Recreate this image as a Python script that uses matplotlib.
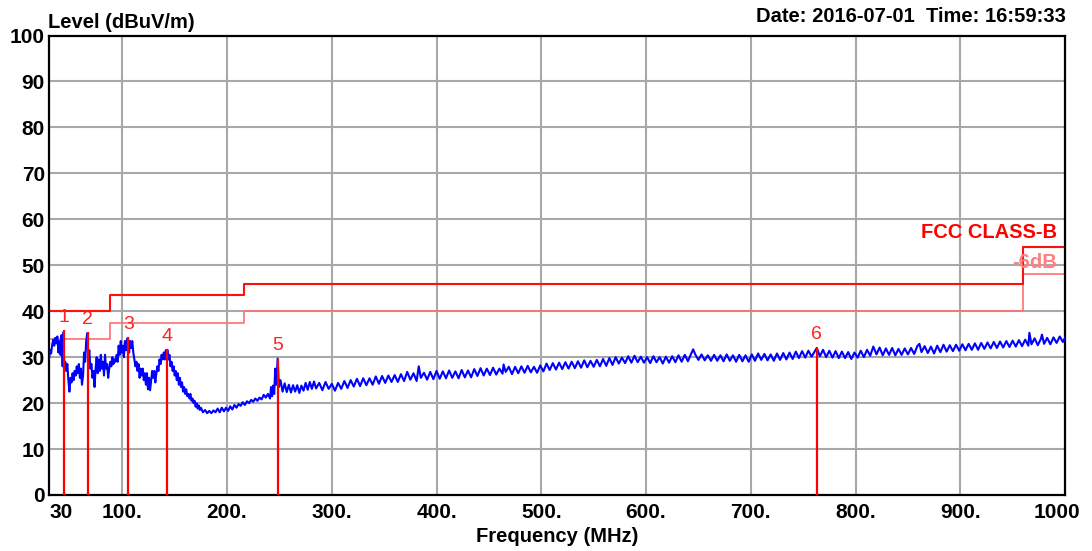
import matplotlib
matplotlib.use("Agg")
import matplotlib.pyplot as plt
from matplotlib.transforms import ScaledTranslation

plt.rcParams['font.family'] = ['Liberation Sans', 'DejaVu Sans']

# measured trace (MHz, dBuV/m)
trace_freq = [
    30, 31, 32, 33, 34, 35, 36, 37, 38, 39, 40, 41, 42, 43, 44, 44.5, 45.5, 46.5, 47.5, 48.5,
    49.5, 50.5, 51.5, 52.5, 53.5, 54.5, 55.5, 56.5, 57.5, 58.5, 59.5, 60.5, 61.5, 62.5, 63.5,
    64.5, 65.5, 66.5, 67.5, 68.5, 69.5, 70.5, 71.5, 72.5, 73.5, 74.5, 75.5, 76.5, 77.5, 78.5,
    79.5, 80.5, 81.5, 82.5, 83.5, 84.5, 85.5, 86.5, 87.5, 88.5, 89.5, 90.5, 91.5, 92.5, 93.5,
    94.5, 95.5, 96.5, 97.5, 98.5, 99.5, 100.5, 101.5, 102.5, 103.5, 104.5, 105.5, 106.5, 107.5,
    108.5, 109.5, 110.5, 111.5, 112.5, 113.5, 114.5, 115.5, 116.5, 117.5, 118.5, 119.5, 120.5,
    121.5, 122.5, 123.5, 124.5, 125.5, 126.5, 127.5, 128.5, 129.5, 130.5, 131.5, 132.5, 133.5,
    134.5, 135.5, 136.5, 137.5, 138.5, 139.5, 140.5, 141.5, 142.5, 143, 144, 145, 146, 147, 148,
    149, 150, 151, 152, 153, 154, 155, 156, 157, 158, 159, 160, 161, 162, 163, 164, 165, 166,
    167, 168, 169, 170, 171, 172, 173, 174, 175, 177, 179, 181, 183, 185, 187, 189, 191, 193,
    195, 197, 199, 201, 203, 205, 207, 209, 211, 213, 215, 217, 219, 221, 223, 225, 227, 229,
    231, 233, 235, 237, 239, 241, 242, 243, 244, 245, 246, 247, 248.3, 249.5, 251, 253, 255,
    257, 259, 261, 263, 265, 267, 269, 271, 273, 275, 277, 279, 281, 283, 285, 288, 291, 294,
    297, 300, 303, 306, 309, 312, 315, 318, 321, 324, 327, 330, 333, 336, 339, 342, 345, 348,
    351, 354, 357, 360, 363, 366, 369, 372, 375, 378, 381, 383, 385, 388, 391, 394, 397, 400,
    403, 406, 409, 412, 415, 418, 421, 424, 427, 430, 433, 436, 439, 442, 445, 448, 451, 454,
    457, 460, 463, 464, 466, 469, 472, 475, 478, 481, 484, 487, 490, 493, 496, 499, 502, 505,
    508, 511, 514, 517, 520, 523, 526, 529, 532, 535, 538, 541, 544, 547, 550, 553, 556, 559,
    562, 565, 568, 571, 574, 577, 580, 583, 586, 589, 592, 595, 598, 601, 604, 607, 610, 613,
    616, 619, 622, 625, 628, 631, 634, 637, 640, 643, 645, 647, 650, 653, 656, 659, 662, 665,
    668, 671, 674, 677, 680, 683, 686, 689, 692, 695, 698, 701, 704, 707, 710, 713, 716, 719,
    722, 725, 728, 731, 734, 737, 740, 743, 746, 749, 752, 755, 758, 763, 766, 769, 772, 775,
    778, 781, 784, 787, 790, 793, 796, 799, 802, 805, 808, 811, 814, 817, 820, 823, 826, 829,
    832, 835, 838, 841, 844, 847, 850, 853, 856, 859, 861, 863, 866, 869, 872, 875, 878, 881,
    884, 887, 890, 893, 896, 899, 902, 905, 908, 911, 914, 917, 920, 923, 926, 929, 932, 935,
    938, 941, 944, 947, 950, 953, 956, 959, 962, 965, 966, 968, 971, 974, 977, 978, 980, 983,
    986, 989, 992, 995, 998, 1000,
]
trace_level = [
    29.5, 31.5, 30.8, 32.6, 33.8, 32.5, 34.2, 33.0, 34.5, 31.0, 33.5, 30.5, 34.8, 28.0, 35.5, 27.5, 29.0, 27.0, 28.5, 25.0,
    22.5, 25.5, 24.5, 26.5, 25.0, 27.0, 26.0, 28.0, 26.5, 28.5, 25.5, 27.5, 24.0, 26.0, 31.0,
    29.0, 33.5, 35.2, 30.0, 31.5, 27.5, 28.5, 25.5, 27.0, 23.5, 27.5, 30.0, 26.5, 29.5, 27.0,
    30.5, 27.5, 29.0, 26.0, 30.5, 27.5, 28.5, 25.5, 27.5, 29.0, 28.0, 30.0, 28.5, 29.5, 29.0,
    30.5, 29.0, 32.5, 30.5, 33.5, 31.0, 32.5, 30.0, 33.5, 31.5, 34.0, 34.2, 31.0, 33.5,
    32.0, 33.5, 31.0, 29.5, 28.0, 29.0, 27.0, 28.5, 25.5, 27.5, 26.0, 27.5, 25.0,
    26.5, 24.0, 26.5, 23.0, 25.5, 22.8, 25.0, 27.0, 25.5, 27.0, 24.5, 26.5, 28.0,
    27.0, 29.5, 28.5, 30.5, 29.5, 31.0, 29.5, 31.5, 30.0, 31.6, 29.5, 30.5, 28.0, 29.0, 27.0,
    28.0, 26.0, 27.0, 25.0, 26.5, 24.0, 25.5, 23.5, 24.5, 22.5, 23.5, 22.0, 23.0, 21.5, 22.0, 21.0, 22.0, 20.5,
    21.0, 20.0, 20.5, 19.2, 20.0, 18.8, 19.5, 18.5, 19.0, 18.0, 18.5, 17.8, 18.3, 17.8, 18.4, 18.0, 18.8, 18.0,
    19.0, 18.2, 19.0, 18.3, 19.3, 18.6, 19.6, 19.0, 19.8, 19.4, 20.2, 19.6, 20.4, 20.0, 20.7, 20.3, 21.0, 20.5,
    21.2, 20.8, 21.8, 21.2, 22.0, 21.0, 23.5, 21.5, 23.8, 22.0, 27.5, 24.0, 29.7, 23.5, 25.0, 22.5, 24.3,
    22.4, 24.0, 22.3, 23.9, 22.5, 23.9, 22.2, 23.8, 22.7, 24.4, 22.9, 24.6, 23.1, 24.7, 23.2,
    24.4, 22.8, 24.6, 23.1, 24.2, 22.7, 24.4, 23.1, 24.8, 23.3, 25.0, 23.6, 25.3, 23.7, 25.4, 23.9,
    25.4, 24.0, 25.8, 24.2, 25.9, 24.4, 26.0, 24.6, 26.1, 24.6, 26.3, 24.8, 26.8, 25.1, 26.5, 24.8,
    28.0, 25.5,
    26.6, 25.1, 26.8, 25.2, 27.0, 25.3, 26.9, 25.4, 27.1, 25.5, 26.9, 25.4, 27.2, 25.6, 27.1, 25.6,
    27.4, 25.9, 27.6, 26.0, 27.5, 26.1, 27.7, 26.2, 27.5, 26.4,
    28.4,
    26.8, 27.9, 26.3, 27.9, 26.5, 28.0, 26.6, 28.1, 26.7, 27.9, 26.6, 28.2, 26.9, 28.6, 27.2,
    28.7, 27.3, 28.8, 27.4, 28.9, 27.5, 29.0, 27.6, 29.1, 27.7, 29.3, 27.8, 29.2, 27.9, 29.4,
    28.0, 29.6, 28.1, 29.8, 28.3, 30.0, 28.6, 29.9, 28.7, 30.2, 28.8, 30.3, 28.9, 30.1, 28.8,
    30.0, 28.7, 30.2, 28.9, 30.0, 28.6, 30.1, 28.8, 30.2, 28.9, 30.4, 29.0, 30.5, 29.1, 30.7,
    31.7,
    30.6, 29.4, 30.6, 29.3, 30.4, 29.2, 30.5, 29.2, 30.4, 29.1, 30.6, 29.2, 30.4, 29.0, 30.5,
    29.1, 30.4, 29.0, 30.6, 29.2, 30.8, 29.4, 30.7, 29.3, 30.6, 29.2, 30.8, 29.4, 30.9, 29.5,
    31.0, 29.6, 31.2, 29.8, 31.3, 29.9, 31.4, 30.1,
    32.0,
    30.2, 31.6, 30.0, 31.4, 29.9, 31.3, 29.8, 31.2, 29.8, 31.1, 29.6, 31.0, 29.9, 31.4, 30.0,
    31.6, 30.3, 32.3, 30.6, 32.1, 30.4, 31.9, 30.5, 32.0, 30.4, 31.8, 30.5, 31.9, 30.6, 32.0,
    30.7, 32.4,
    32.9,
    31.1, 32.4, 30.9, 32.3, 30.8, 32.5, 31.1, 32.7, 31.2, 32.6, 31.3, 32.7, 31.4, 32.8, 31.5,
    32.9, 31.6, 33.0, 31.6, 33.1, 31.8, 33.2, 31.9, 33.3, 32.0, 33.4, 32.1, 33.5, 32.2, 33.6,
    32.3, 33.7, 32.4, 33.8, 32.5,
    35.3,
    32.8, 34.1, 32.6, 34.0,
    34.9,
    32.9, 34.2, 32.8, 34.3, 33.1, 34.5, 33.3,
    34.2,
]

# FCC class B limit (steps) and the -6dB margin line
limit_freq = [30, 88, 88, 216, 216, 960, 960, 1000]
limit_level = [40, 40, 43.5, 43.5, 46, 46, 54, 54]
margin_level = [34, 34, 37.5, 37.5, 40, 40, 48, 48]

# peak markers
marker_id = ['1', '2', '3', '4', '5', '6']
marker_freq = [44.3, 66.9, 105.7, 143.0, 248.3, 763.0]
marker_level = [35.8, 35.4, 34.3, 31.7, 29.7, 32.0]

x_ticks = [30, 100, 200, 300, 400, 500, 600, 700, 800, 900, 1000]
x_labels = ['30', '100.', '200.', '300.', '400.', '500.', '600.', '700.', '800.', '900.', '1000']
y_ticks = [0, 10, 20, 30, 40, 50, 60, 70, 80, 90, 100]

fig = plt.figure(figsize=(10.92, 5.51), dpi=100)
ax = fig.add_axes([49 / 1092, 56 / 551, 1016 / 1092, 459.5 / 551])

for xv in x_ticks[1:-1]:
    ax.axvline(xv, color='#a8a8a8', lw=1.5, zorder=1)
for yv in y_ticks[1:-1]:
    ax.axhline(yv, color='#a8a8a8', lw=1.5, zorder=1)

ax.plot(limit_freq, margin_level, color='#ff7070', lw=1.2, zorder=2)
ax.plot(limit_freq, limit_level, color='#ff1010', lw=1.5, zorder=2)
ax.plot(trace_freq, trace_level, color='#0000ff', lw=1.5, zorder=3)

ax.vlines(marker_freq, 0, marker_level, color='#ff0000', lw=1.6, zorder=4)
for mid, mf, ml in zip(marker_id, marker_freq, marker_level):
    ax.text(mf, ml + 1.0, mid, color='#ff2020', fontsize=14, ha='center', va='bottom', zorder=5)

ax.text(1000 - 8, 55.0, 'FCC CLASS-B', color='#ff0000', fontsize=14.5, fontweight='bold',
        ha='right', va='bottom')
ax.text(1000 - 8, 52.6, '-6dB', color='#ff8080', fontsize=14.5, fontweight='bold',
        ha='right', va='top')

ax.set_xlim(30, 1000)
ax.set_ylim(0, 100)
ax.set_xticks(x_ticks)
ax.set_xticklabels(x_labels, fontsize=15, fontweight='bold')
ax.set_yticks(y_ticks)
ax.set_yticklabels([str(v) for v in y_ticks], fontsize=15, fontweight='bold')
ax.tick_params(axis='x', length=0, pad=6)
ax.tick_params(axis='y', length=0, pad=3)

xl = ax.get_xticklabels()
xl[0].set_ha('left')
xl[-1].set_transform(xl[-1].get_transform() + ScaledTranslation(-8 / 100, 0, fig.dpi_scale_trans))

for s in ax.spines.values():
    s.set_color('black')
    s.set_linewidth(1.6)

ax.set_xlabel('Frequency (MHz)', fontsize=14.5, fontweight='bold', labelpad=3)
fig.text(48 / 1092, 1 - 22 / 551, 'Level (dBuV/m)', fontsize=14.5, fontweight='bold',
         ha='left', va='center')
fig.text(1066 / 1092, 1 - 17 / 551, 'Date: 2016-07-01  Time: 16:59:33', fontsize=14.5,
         fontweight='bold', ha='right', va='center')

fig.savefig('out.png', dpi=100)
